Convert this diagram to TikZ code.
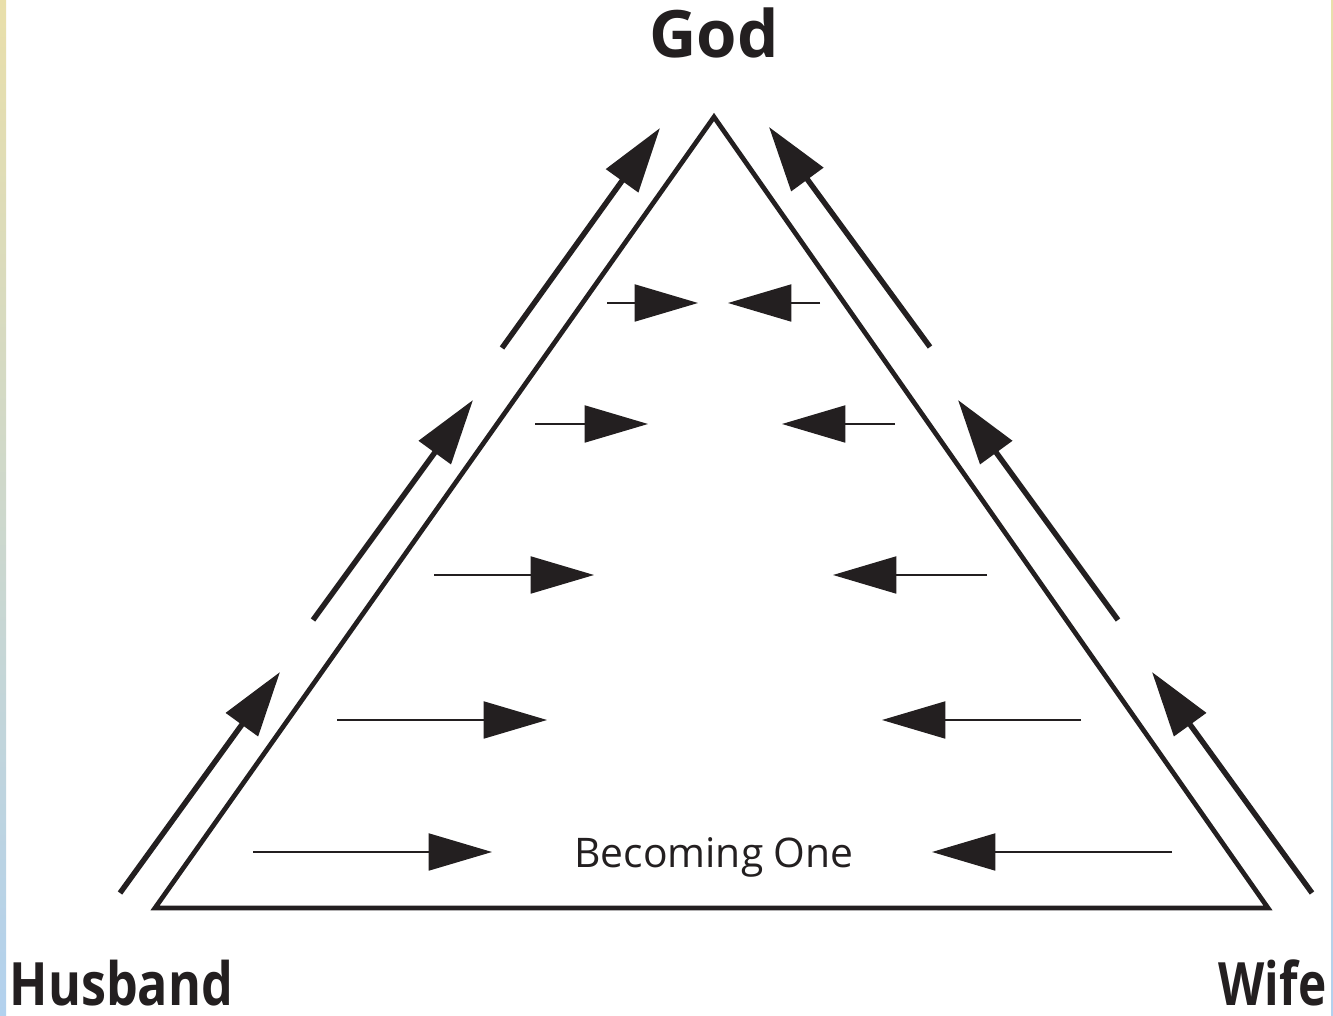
\documentclass[tikz,border=0pt]{standalone}
\usepackage{fontspec}
\setmainfont{Open Sans}
\usetikzlibrary{arrows.meta}
\definecolor{stripTop}{HTML}{E9DFAA}
\definecolor{stripBot}{HTML}{B2D1EE}
\definecolor{ink}{HTML}{231F20}
\tikzset{
  outerarrow/.style={draw=ink,line width=1.55pt,-{Triangle[length=18.5pt,width=11pt]}},
  innerarrow/.style={draw=ink,line width=0.6pt,-{Triangle[length=18pt,width=10.5pt]}},
  tri/.style={draw=ink,line width=1.35pt,line join=miter},
  biglabel/.style={font=\bfseries\fontsize{17}{19}\selectfont,text=ink,inner sep=0pt},
  smalllabel/.style={font=\fontsize{11.6}{13}\selectfont,text=ink,inner sep=0pt}
}
\begin{document}
\begin{tikzpicture}[x=0.01cm,y=-0.01cm]
\useasboundingbox (0,0) rectangle (1333,1016);
\fill[white] (0,0) rectangle (1333,1016);
\shade[top color=stripTop,bottom color=stripBot] (0,0) rectangle (6,1016);
\shade[top color=stripTop,bottom color=stripBot] (1331,0) rectangle (1333,1016);
% triangle
\coordinate (apex) at (714,117);
\coordinate (bl) at (155,908);
\coordinate (br) at (1268,908);
\draw[tri] (apex) -- (bl) -- (br) -- cycle;
% labels
\node[biglabel,font=\bfseries\fontsize{18.6}{21}\selectfont,anchor=base] (god) at (714,58) {God};
\node[biglabel,anchor=base west] (husband) at (9,1005) {\scalebox{0.84}[1]{Husband}};
\node[biglabel,anchor=base east] (wife) at (1327,1005) {\scalebox{0.8}[1]{Wife}};
\node[smalllabel,anchor=base] (one) at (714,868) {Becoming One};
% outer arrows left
\coordinate (la1) at (120,893); \coordinate (lb1) at (280,672);
\coordinate (la2) at (313,620); \coordinate (lb2) at (473,400);
\coordinate (la3) at (502,348); \coordinate (lb3) at (660,128);
\draw[outerarrow] (la1) -- (lb1);
\draw[outerarrow] (la2) -- (lb2);
\draw[outerarrow] (la3) -- (lb3);
% outer arrows right
\coordinate (ra1) at (1312,893); \coordinate (rb1) at (1152,672);
\coordinate (ra2) at (1118,620); \coordinate (rb2) at (958,400);
\coordinate (ra3) at (930,347); \coordinate (rb3) at (769,127);
\draw[outerarrow] (ra1) -- (rb1);
\draw[outerarrow] (ra2) -- (rb2);
\draw[outerarrow] (ra3) -- (rb3);
% inner arrows
\coordinate (h1s) at (607,303); \coordinate (h1e) at (698,303);
\coordinate (w1s) at (820,303); \coordinate (w1e) at (728,303);
\coordinate (h2s) at (535,424); \coordinate (h2e) at (648,424);
\coordinate (w2s) at (895,424); \coordinate (w2e) at (782,424);
\coordinate (h3s) at (434,575); \coordinate (h3e) at (594,575);
\coordinate (w3s) at (987,575); \coordinate (w3e) at (833,575);
\coordinate (h4s) at (337,720); \coordinate (h4e) at (547,720);
\coordinate (w4s) at (1081,720); \coordinate (w4e) at (882,720);
\coordinate (h5s) at (253,852); \coordinate (h5e) at (492,852);
\coordinate (w5s) at (1172,852); \coordinate (w5e) at (932,852);
\foreach \i in {1,...,5}{
  \draw[innerarrow] (h\i s) -- (h\i e);
  \draw[innerarrow] (w\i s) -- (w\i e);
}
\end{tikzpicture}
\end{document}
